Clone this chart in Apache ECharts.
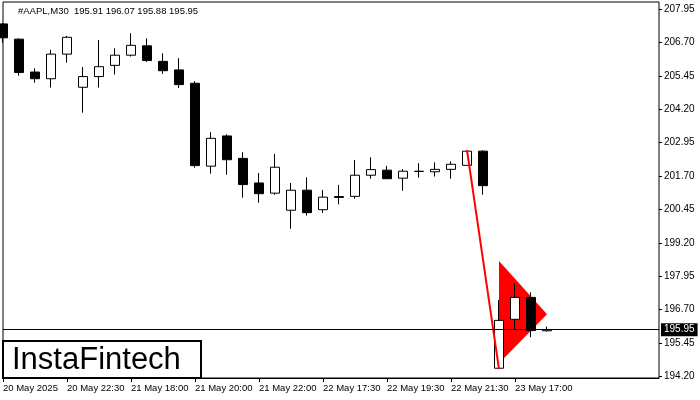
<!DOCTYPE html>
<html>
<head>
<meta charset="utf-8">
<script src="https://cdn.jsdelivr.net/npm/echarts@6/dist/echarts.min.js"></script>
<style>html,body{margin:0;padding:0;background:#fff}#c{width:700px;height:400px}</style>
</head>
<body>
<div id="c"></div>
<script>
// Bar times (M30), 35 bars, plus empty future slots
const times = [
 '20 May 20:30','20 May 21:00','20 May 21:30','20 May 22:00','20 May 22:30',
 '21 May 16:30','21 May 17:00','21 May 17:30','21 May 18:00','21 May 18:30','21 May 19:00','21 May 19:30','21 May 20:00','21 May 20:30','21 May 21:00','21 May 21:30','21 May 22:00','21 May 22:30',
 '22 May 16:30','22 May 17:00','22 May 17:30','22 May 18:00','22 May 18:30','22 May 19:00','22 May 19:30','22 May 20:00','22 May 20:30','22 May 21:00','22 May 21:30','22 May 22:00','22 May 22:30',
 '23 May 16:30','23 May 17:00','23 May 17:30','23 May 18:00'
];
const futureSlots = ['','','','','','',''];
const opens  = [207.39,206.82,205.59,205.34,206.26,205.02,205.42,205.84,206.22,206.57,205.99,205.67,205.17,202.07,203.20,202.36,201.44,201.06,200.42,201.17,200.44,200.93,200.94,201.73,201.92,201.62,201.87,201.86,201.95,202.10,202.63,194.51,196.34,197.16,195.91];
const closes = [206.87,205.57,205.34,206.26,206.89,205.42,205.79,206.22,206.59,206.02,205.64,205.12,202.09,203.11,202.31,201.38,201.04,202.03,201.17,200.33,200.91,200.90,201.73,201.94,201.60,201.88,201.88,201.95,202.14,202.63,201.34,196.30,197.16,195.92,195.95];
const lows   = [206.68,205.45,205.19,205.01,205.94,204.07,205.01,205.50,206.17,205.97,205.52,204.99,202.01,201.79,201.75,200.89,200.70,201.00,199.73,200.22,200.32,200.64,200.85,201.60,201.60,201.15,201.64,201.68,201.60,202.10,201.00,194.50,195.97,195.67,195.88];
const highs  = [207.42,206.85,205.73,206.42,206.94,205.78,206.79,206.48,207.04,206.85,206.29,206.11,205.25,203.34,203.26,202.59,201.81,202.53,201.44,201.65,201.18,201.37,202.30,202.40,202.08,201.96,202.18,202.21,202.25,202.64,202.67,197.06,197.69,197.35,196.07];
// x-axis tick labels
const xTickIdx    = [0,4,8,12,16,20,24,28,32];
const xTickLabels = ['20 May 2025','20 May 22:30','21 May 18:00','21 May 20:00','21 May 22:00','22 May 17:30','22 May 19:30','22 May 21:30','23 May 17:00'];
// y-axis tick labels
const yTicks = [194.20,195.45,196.70,197.95,199.20,200.45,201.70,202.95,204.20,205.45,206.70,207.95];
const lastPrice = 195.95;
const titleText = '#AAPL,M30  195.91 196.07 195.88 195.95';
// pattern: flagpole line and pennant triangle
const poleX = [29, 31];
const poleY = [202.67, 194.48];
const triX = [31, 31, 34];
const triY = [198.52, 194.70, 196.53];

const categories = times.concat(futureSlots);
const candleData = opens.map((o,i)=>[o, closes[i], lows[i], highs[i]]);
const poleData = poleX.map((x,i)=>[x, poleY[i]]);

const chart = echarts.init(document.getElementById('c'), null, {renderer:'canvas'});
const FONT = 'Liberation Sans';
chart.setOption({
  animation: false,
  backgroundColor: '#fff',
  grid: {left:3, top:2, right:41, bottom:22, show:true, borderColor:'#000', borderWidth:1, backgroundColor:'#fff'},
  xAxis: {
    type:'category', data:categories, boundaryGap:false,
    axisLine:{show:true, lineStyle:{color:'#000', width:1}},
    axisTick:{show:true, length:4, lineStyle:{color:'#000'}, interval:(i)=>xTickIdx.includes(i)},
    axisLabel:{interval:(i)=>xTickIdx.includes(i), formatter:(v,i)=>{const k=xTickIdx.indexOf(i);return k>=0?xTickLabels[k]:'';}, align:'left', margin:5, fontSize:9.5, fontFamily:FONT, color:'#000'},
    splitLine:{show:false}
  },
  yAxis: {
    type:'value', position:'right', min:194.145, max:208.21, scale:true,
    axisLine:{show:false},
    axisTick:{show:true, length:3, lineStyle:{color:'#000'}, customValues:yTicks},
    axisLabel:{customValues:yTicks, formatter:(v)=>v.toFixed(2), margin:5, fontSize:10, fontFamily:FONT, color:'#000'},
    splitLine:{show:false}
  },
  series: [
    {
      type:'custom', z:1, clip:true,
      data:[[triX[0], triY[0]]],
      encode:{x:0, y:1},
      renderItem:(params, api)=>{
        const pts = triX.map((x,i)=>api.coord([x, triY[i]]));
        return {type:'polygon', shape:{points:pts}, style:{fill:'#ff0000'}};
      }
    },
    {
      type:'candlestick', z:2, data:candleData, barWidth:9, clip:true,
      itemStyle:{color:'#fff', color0:'#000', borderColor:'#000', borderColor0:'#000', borderColorDoji:'#000', borderWidth:1},
      markLine:{
        silent:true, symbol:'none', animation:false,
        lineStyle:{color:'#000', width:1, type:'solid'},
        label:{show:true, position:'end', formatter:lastPrice.toFixed(2), backgroundColor:'#000', color:'#fff', padding:[2,3,1,3], fontSize:10, fontFamily:FONT, distance:2},
        data:[{yAxis:lastPrice}]
      }
    },
    {
      type:'line', z:3, data:poleData, symbol:'none', lineStyle:{color:'#ff0000', width:2}
    }
  ],
  graphic: [
    {type:'text', left:18, top:6, style:{text:titleText, font:'9.5px "Liberation Sans"', fill:'#000'}},
    {type:'rect', shape:{x:3, y:341, width:198, height:37}, style:{fill:'#fff', stroke:'#000', lineWidth:2}, z:100},
    {type:'text', x:12, y:360, style:{text:'InstaFintech', font:'31px "Liberation Sans"', fill:'#000', textVerticalAlign:'middle'}, z:101}
  ]
});
</script>
</body>
</html>
